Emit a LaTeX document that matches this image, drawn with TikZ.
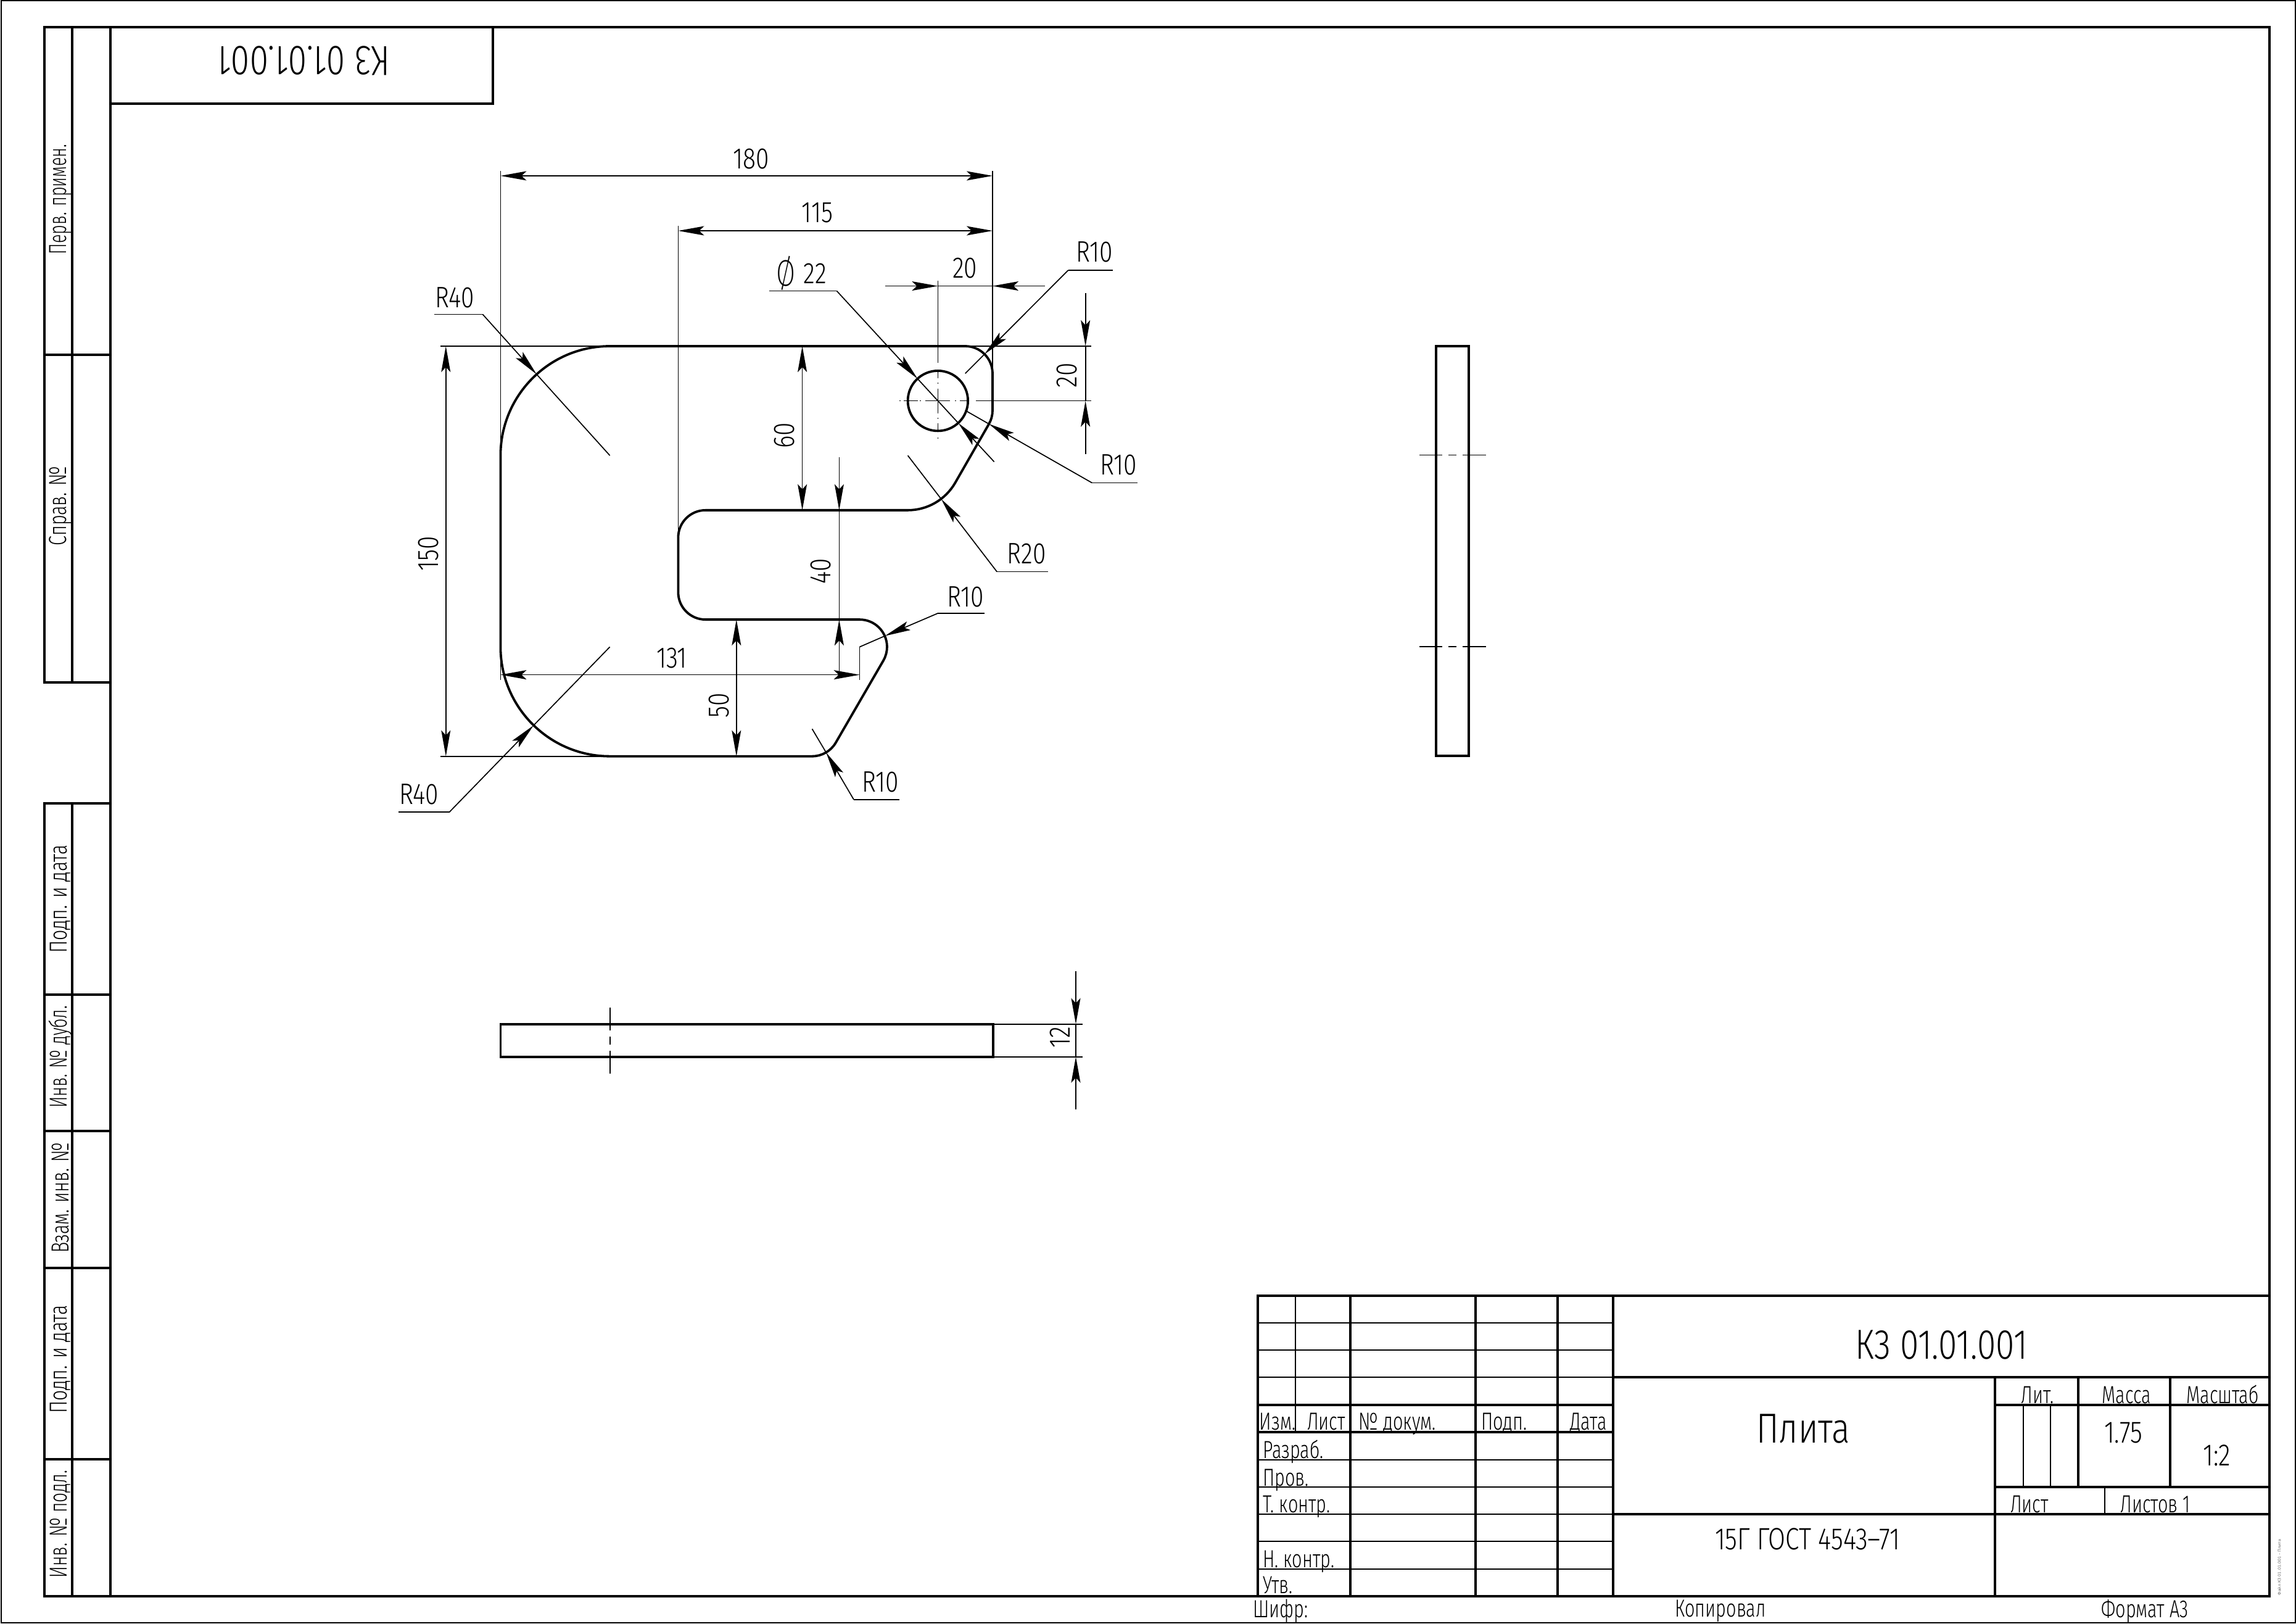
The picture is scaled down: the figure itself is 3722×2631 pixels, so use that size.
\documentclass[tikz,border=0pt]{standalone}
\usepackage{fontspec}
\usetikzlibrary{arrows.meta,calc}
\newfontfamily\gost[FakeStretch=0.72]{Fira Sans Light}
\newfontfamily\gostw[FakeStretch=0.81]{Fira Sans Light}
\newfontfamily\gostphi[FakeStretch=0.75]{Fira Sans ExtraLight}
\newfontfamily\gostb{DejaVu Sans}
\newcommand{\fsz}[1]{\fontsize{#1}{#1}\selectfont}
\tikzset{
  heavy/.style={line width=2pt,line cap=rect},
  gridl/.style={line width=1pt},
  hair/.style={line width=0.85pt},
  body/.style={line width=1.9pt,line join=round},
  dimarrow/.style={hair,-{Stealth[length=21pt,width=7.5pt,inset=4pt]}},
  lbl/.style={inner sep=0pt,font=\gostw\fsz{24}},
  sml/.style={inner sep=0pt,font=\gost\fsz{20}},
  big/.style={inner sep=0pt,font=\gostw\fsz{34}},
  mid/.style={inner sep=0pt,font=\gostw\fsz{25}},
  side/.style={inner sep=0pt,font=\gost\fsz{20},rotate=90},
}
\begin{document}
\begin{tikzpicture}[x=0.5pt,y=-0.5pt]
\useasboundingbox (0,0) rectangle (3722,2631);
\draw[line width=1pt] (2,1) rectangle (3721,2630);
% main frame
\draw[heavy] (179,44) rectangle (3679,2587);
\draw[heavy] (72,44) -- (179,44);
\draw[heavy] (72,44) -- (72,1106) -- (179,1106);
\draw[heavy] (116.5,44) -- (116.5,1106);
\draw[heavy] (72,575) -- (179,575);
\draw[heavy] (799,44) -- (799,168) -- (179,168);
\draw[heavy] (72,1302) -- (179,1302);
\draw[heavy] (72,1302) -- (72,2587) -- (179,2587);
\draw[heavy] (116.5,1302) -- (116.5,2587);
\foreach \yy in {1612,1833,2055,2365} \draw[heavy] (72,\yy) -- (179,\yy);
\node[side,xscale=.93] (s1) at (98,323) {Перв. примен.};
\node[side] (s2) at (98,820) {Справ. №};
\node[side,xscale=1.05] (s3) at (98,1457) {Подп. и дата};
\node[side,xscale=.94] (s4) at (98,1713) {Инв. № дубл.};
\node[side] (s5) at (98,1941) {Взам. инв. №};
\node[side,xscale=1.05] (s6) at (98,2203) {Подп. и дата};
\node[side,xscale=.97] (s7) at (98,2470) {Инв. № подл.};
\node[big,rotate=180] (topcode) at (493,98) {К3 01.01.001};
% title block grid
\foreach \yy in {2144,2187.5,2232,2366,2410,2454,2498,2543} \draw[gridl] (2038.5,\yy) -- (2615,\yy);
\foreach \yy in {2277,2321} \draw[heavy] (2038.5,\yy) -- (2615,\yy);
\draw[heavy] (2038.5,2100) rectangle (3679,2587);
\draw[gridl] (2100,2100) -- (2100,2321);
\draw[heavy] (2189,2100) -- (2189,2587);
\foreach \xx in {2392,2525,2615} \draw[heavy] (\xx,2100) -- (\xx,2587);
\draw[heavy] (2615,2232) -- (3679,2232);
\draw[heavy] (2615,2454) -- (3679,2454);
\draw[heavy] (3234,2277) -- (3679,2277);
\draw[heavy] (3234,2410) -- (3679,2410);
\draw[heavy] (3234,2232) -- (3234,2587);
\draw[heavy] (3369,2232) -- (3369,2410);
\draw[heavy] (3518,2232) -- (3518,2410);
\draw[gridl] (3279.5,2277) -- (3279.5,2410);
\draw[gridl] (3324,2277) -- (3324,2410);
\draw[gridl] (3412,2410) -- (3412,2454);
% title texts
\node[sml,anchor=base] (t1) at (2071,2317) {Изм.};
\node[sml,anchor=base] (t2) at (2150,2317) {Лист};
\node[sml,anchor=base] (t3) at (2265,2317) {№ докум.};
\node[sml,anchor=base] (t4) at (2438,2317) {Подп.};
\node[sml,anchor=base] (t5) at (2575,2317) {Дата};
\node[sml,anchor=base west] (t6) at (2047,2363) {Разраб.};
\node[sml,anchor=base west] (t7) at (2047,2408) {Пров.};
\node[sml,anchor=base west] (t8) at (2047,2451) {Т. контр.};
\node[sml,anchor=base west] (t9) at (2047,2540) {Н. контр.};
\node[sml,anchor=base west] (t10) at (2047,2582) {Утв.};
\node[sml,anchor=base] (t11) at (3303,2274) {Лит.};
\node[sml,anchor=base] (t12) at (3447,2274) {Масса};
\node[sml,anchor=base] (t13) at (3603,2274) {Масштаб};
\node[sml,anchor=base] (t14) at (3290,2451) {Лист};
\node[sml,anchor=base] (t15) at (3494,2451) {Листов 1};
\node[big] (code) at (3147,2180) {К3 01.01.001};
\node[big] (name) at (2923,2316) {Плита};
\node[mid] (mass) at (3442,2322) {1.75};
\node[mid] (scale) at (3594,2359) {1:2};
\node[mid] (mat) at (2930,2494) {15Г ГОСТ 4543–71};
\node[sml] (b1) at (2076,2611) {Шифр:};
\node[sml] (b2) at (2789,2611) {Копировал};
\node[sml] (b3) at (3477,2611) {Формат А3};
\node[inner sep=0pt,font=\gostb\fsz{3.2},text=black!60,rotate=90] (file) at (3695,2540) {Файл К3 01.01.001 – Плита};
% side view
\draw[line width=1.9pt] (2328,561) rectangle (2381,1225);
\foreach \yy in {737.5,1048} {
  \draw[hair] (2301,\yy) -- (2338,\yy);
  \draw[hair] (2348,\yy) -- (2361,\yy);
  \draw[hair] (2371,\yy) -- (2409,\yy);
}
% bottom view
\draw[line width=1.9pt] (811.5,1659.7) rectangle (1610,1712.7);
\draw[hair] (989,1632.7) -- (989,1670);
\draw[hair] (989,1680) -- (989,1692.7);
\draw[hair] (989,1702.7) -- (989,1740);
\draw[hair] (1610,1659.7) -- (1754.5,1659.7);
\draw[hair] (1610,1712.7) -- (1754.5,1712.7);
\coordinate (d12a) at (1744,1574);
\coordinate (d12b) at (1744,1659.7);
\coordinate (d12c) at (1744,1798);
\coordinate (d12d) at (1744,1712.7);
\draw[dimarrow] (d12a) -- (d12b);
\draw[dimarrow] (d12c) -- (d12d);
\draw[hair] (d12b) -- (d12d);
\node[lbl,rotate=90] (l12) at (1718,1681) {12};
% plate
\begin{scope}[shift={(811.4,561)},x=2.2155pt,y=-2.2155pt]
\draw[body] (40,0) -- (170,0) arc[start angle=-90,end angle=0,radius=10]
 -- (180,23.5) arc[start angle=0,end angle=30,radius=10]
 -- (166.32,50) arc[start angle=30,end angle=90,radius=20]
 -- (75,60) arc[start angle=-90,end angle=-180,radius=10]
 -- (65,90) arc[start angle=180,end angle=90,radius=10]
 -- (131.4,100) arc[start angle=-90,end angle=30,radius=10]
 -- (122.66,145) arc[start angle=30,end angle=90,radius=10]
 -- (40,150) arc[start angle=90,end angle=180,radius=40]
 -- (0,40) arc[start angle=180,end angle=270,radius=40] -- cycle;
\draw[body] (160,20) circle[radius=11];
% extension lines
\draw[hair] (0,-64) -- (0,122);
\draw[hair] (180,-64) -- (180,10);
\draw[hair] (65,-44) -- (65,70);
\draw[hair] (-22,0) -- (216,0);
\draw[hair] (-22,150) -- (40,150);
\draw[hair] (174,20) -- (216,20);
\draw[hair] (160,-24) -- (160,6);
\draw[hair] (131.4,110) -- (131.4,122);
% centre lines of the hole
\draw[hair] (146,20) -- (146.3,20) (147.5,20) -- (152.8,20) (153.4,20) -- (153.8,20)
 (155.5,20) -- (164.5,20) (166.2,20) -- (166.6,20) (168,20) -- (171,20);
\draw[hair] (160,8.7) -- (160,11.8) (160,13.4) -- (160,13.8) (160,15.5) -- (160,24.5)
 (160,26.2) -- (160,26.6) (160,28.2) -- (160,31.3) (160,33.5) -- (160,33.9);
% dimensions
\tikzset{both/.style={hair,{Stealth[length=21pt,width=7.5pt,inset=4pt]}-{Stealth[length=21pt,width=7.5pt,inset=4pt]}}}
\draw[both] (0,-62.3) -- (180,-62.3);
\draw[both] (65,-42.2) -- (180,-42.2);
\draw[both] (-20,0) -- (-20,150);
\draw[both] (110.4,0) -- (110.4,60);
\draw[both] (86.3,100) -- (86.3,150);
\draw[both] (0,120.2) -- (131.4,120.2);
\draw[hair] (160,-22) -- (180,-22);
\draw[dimarrow] (140.8,-22) -- (160,-22);
\draw[dimarrow] (199.2,-22) -- (180,-22);
\draw[hair] (214,0) -- (214,20);
\draw[dimarrow] (214,-19.4) -- (214,0);
\draw[dimarrow] (214,39.4) -- (214,20);
\draw[hair] (123.9,60) -- (123.9,100);
\draw[dimarrow] (123.9,40.7) -- (123.9,60);
\draw[dimarrow] (123.9,118.9) -- (123.9,100);
% leaders
\draw[hair] (-24.3,-11.6) -- (-6.5,-11.6);
\draw[dimarrow] (-6.5,-11.6) -- (13.2,10.3);
\draw[hair] (13.2,10.3) -- (40,40);
\draw[hair] (-37.4,170.4) -- (-18.7,170.4);
\draw[dimarrow] (-18.7,170.4) -- (12.1,138.7);
\draw[hair] (12.1,138.7) -- (40,110);
\draw[hair] (98.3,-20.2) -- (123,-20.2);
\draw[dimarrow] (123,-20.2) -- (152.55,11.9);
\draw[hair] (152.55,11.9) -- (167.45,28.1);
\draw[dimarrow] (180.6,42.3) -- (167.45,28.1);
\draw[hair] (224,-27.8) -- (207.7,-27.8);
\draw[dimarrow] (207.7,-27.8) -- (177.07,2.93);
\draw[hair] (177.07,2.93) -- (170,10);
\draw[hair] (233,50) -- (216.4,50);
\draw[dimarrow] (216.4,50) -- (178.68,28.46);
\draw[hair] (178.68,28.46) -- (170,23.5);
\draw[hair] (200.3,82.5) -- (181.6,82.5);
\draw[dimarrow] (181.6,82.5) -- (161.2,55.9);
\draw[hair] (161.2,55.9) -- (149,40);
\draw[hair] (177,97.7) -- (160,97.7);
\draw[dimarrow] (160,97.7) -- (140.6,106);
\draw[hair] (140.6,106) -- (131.4,110);
\draw[hair] (146,165.8) -- (129.2,165.8);
\draw[dimarrow] (129.2,165.8) -- (119.1,148.6);
\draw[hair] (119.1,148.6) -- (114,140);
\end{scope}
% dimension labels
\node[lbl] (a180) at (1218,258) {180};
\node[lbl] (a115) at (1325,345) {115};
\node[lbl] (a20h) at (1564,435) {20};
\node[lbl,rotate=90] (a20v) at (1730,608) {20};
\node[lbl,rotate=90] (a150) at (695,897) {150};
\node[lbl,rotate=90] (a60) at (1272,706) {60};
\node[lbl,rotate=90] (a40) at (1331,926) {40};
\node[lbl,rotate=90] (a50) at (1166,1143) {50};
\node[lbl] (a131) at (1089,1067) {131};
\node[lbl] (r40a) at (737,482) {R40};
\node[lbl] (r40b) at (679,1287) {R40};
\node[lbl] (r10a) at (1774,408) {R10};
\node[lbl] (r10b) at (1813,753) {R10};
\node[lbl] (r20) at (1664,897) {R20};
\node[lbl] (r10c) at (1565,967) {R10};
\node[lbl] (r10d) at (1427,1267) {R10};
\node[lbl] (d22) at (1321,443) {22};
\node[inner sep=0pt,font=\gostphi\fsz{30}] (dsym) at (1274.5,443) {Ø};
\end{tikzpicture}
\end{document}
